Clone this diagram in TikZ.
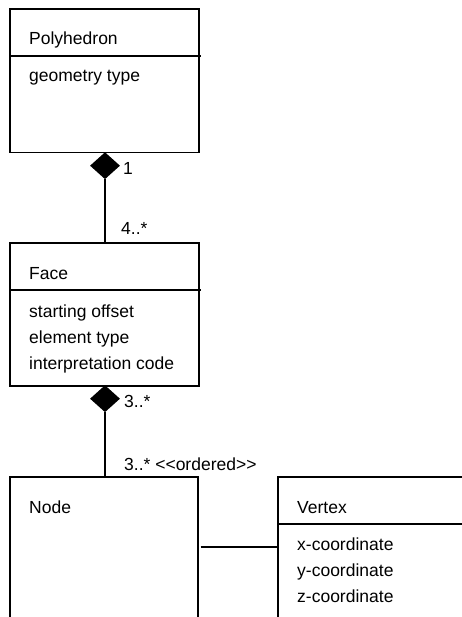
\documentclass[tikz,border=0pt]{standalone}
\usepackage{fontspec}
\setmainfont{Liberation Sans}
\usetikzlibrary{shapes.geometric,calc}

\begin{document}
\begin{tikzpicture}[x=1pt,y=-1pt,
  umlbox/.style={draw,line width=1.6pt,anchor=north west,minimum width=189pt,inner sep=0pt},
  umltext/.style={anchor=base west,inner sep=0pt,font=\fontsize{17.5}{26}\selectfont},
  compdiamond/.style={diamond,fill=black,inner sep=0pt,minimum width=30pt,minimum height=27pt,anchor=north},
  umlline/.style={line width=1.6pt}]
\useasboundingbox (0,0) rectangle (462,617);
\clip (0,0) rectangle (462,617);

% Polyhedron
\node[umlbox,minimum height=143.5pt] (poly) at (9,8.3) {};
\draw[umlline] (poly.west |- 0,56) -- (201,56);
\node[umltext] (polytitle) at (29,45) {Polyhedron};
\node[umltext] (polyattr) at (29,82) {geometry type};
\node[compdiamond] (polyd) at (105,152) {};
\node[umltext] (polymult) at (123,175) {1};

% Face
\node[umlbox,minimum height=143pt] (face) at (9,242) {};
\draw[umlline] (face.west |- 0,290) -- (201,290);
\node[umltext] (facetitle) at (29,279) {Face};
\node[umltext] (faceattra) at (29,317) {starting offset};
\node[umltext] (faceattrb) at (29,343) {element type};
\node[umltext] (faceattrc) at (29,369) {interpretation code};
\node[umltext] (facemult) at (121,235) {4..*};
\draw[umlline] (polyd.south) -- (polyd.south |- face.north);
\node[compdiamond] (faced) at (105,385) {};
\node[umltext] (facedmult) at (124,407) {3..*};

% Node
\node[umlbox,minimum width=188pt,minimum height=200pt] (nodebox) at (9,476) {};
\node[umltext] (nodetitle) at (29,513) {Node};
\node[umltext] (nodemult) at (124,470) {3..* {<}{<}ordered{>}{>}};
\draw[umlline] (faced.south) -- (faced.south |- nodebox.north);

% Vertex
\node[umlbox,minimum width=250pt,minimum height=200pt] (vertex) at (277,476) {};
\draw[umlline] (vertex.west |- 0,524) -- (470,524);
\node[umltext] (vertextitle) at (297,513) {Vertex};
\node[umltext] (vertexattra) at (297,550) {x-coordinate};
\node[umltext] (vertexattrb) at (297,576) {y-coordinate};
\node[umltext] (vertexattrc) at (297,602) {z-coordinate};

\coordinate (assoc) at (0,547);
\draw[umlline] ($(nodebox.east |- assoc)+(2,0)$) -- (vertex.west |- assoc);
\end{tikzpicture}
\end{document}
